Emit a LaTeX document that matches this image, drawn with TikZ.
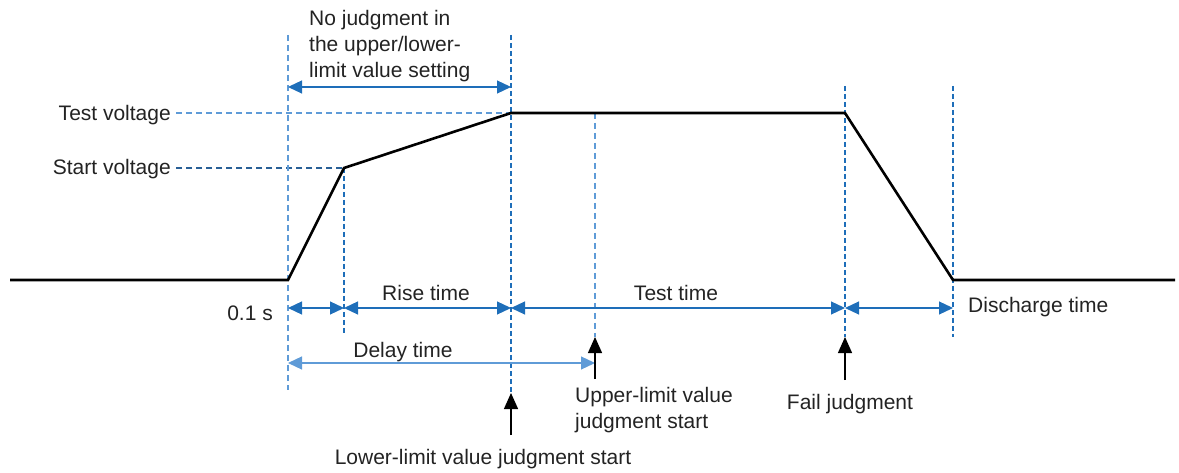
\documentclass[tikz,border=0pt]{standalone}
\usepackage{fontspec}
\setmainfont{Liberation Sans}
\usetikzlibrary{arrows.meta}
\definecolor{arrblue}{RGB}{30,110,185}
\definecolor{lightblue}{RGB}{95,155,215}
\definecolor{darkdash}{RGB}{40,95,150}
\definecolor{txt}{RGB}{35,35,35}
\tikzset{
  wave/.style={line width=2.6pt, black, line join=miter},
  dimarrow/.style={arrblue, line width=1.2pt, {Triangle[length=14pt,width=13pt]}-{Triangle[length=14pt,width=13pt]}},
  guide/.style={lightblue, line width=1.3pt, dash pattern=on 6pt off 4pt},
  guidedark/.style={arrblue, line width=1.2pt, dash pattern=on 5pt off 3pt},
  guidegray/.style={darkdash, line width=1.1pt, dash pattern=on 6pt off 4pt},
  uparrow/.style={black, line width=1.3pt, -{Triangle[length=16pt,width=14pt]}},
  lbl/.style={text=txt, font=\fontsize{21}{26}\selectfont, inner sep=0pt},
}
\begin{document}
\begin{tikzpicture}[x=1pt,y=-1pt]
\useasboundingbox (0,0) rectangle (1179,473);
% waveform points
\coordinate (w0) at (10,280);
\coordinate (w1) at (288,280);
\coordinate (w2) at (344,168);
\coordinate (w3) at (511,113);
\coordinate (w4) at (845,113);
\coordinate (w5) at (953,280);
\coordinate (w6) at (1175,280);
% labels left
\node[lbl, anchor=east] (tv) at (171,115) {Test voltage};
\node[lbl, anchor=east] (sv) at (171,169) {Start voltage};
% horizontal guides
\path (tv.east |- w3) ++(5,0) coordinate (tvs);
\path (sv.east |- w2) ++(5,0) coordinate (svs);
\draw[guide] (tvs) -- (w3);
\draw[guidegray] (svs) -- (w2);
% vertical guide coordinates
\coordinate (a0) at (288,35);  \coordinate (a1) at (288,390);
\coordinate (b0) at (344,168); \coordinate (b1) at (344,335);
\coordinate (c0) at (511,35);  \coordinate (c1) at (511,393);
\coordinate (d0) at (595,113); \coordinate (d1) at (595,337);
\coordinate (e0) at (845,86);  \coordinate (e1) at (845,337);
\coordinate (f0) at (953,86);  \coordinate (f1) at (953,337);
\draw[guide] (a0) -- (a1);
\draw[guidedark] (b0) -- (b1);
\draw[guidedark] (c0) -- (c1);
\draw[guide] (d0) -- (d1);
\draw[guidedark] (e0) -- (e1);
\draw[guidedark] (f0) -- (f1);
% waveform
\draw[wave] (w0) -- (w1) -- (w2) -- (w3) -- (w4) -- (w5) -- (w6);
% dimension arrows
\coordinate (r1a) at (288,308); \coordinate (r1b) at (344,308);
\coordinate (r1c) at (511,308); \coordinate (r1d) at (845,308);
\coordinate (r1e) at (953,308);
\draw[dimarrow] (r1a) -- (r1b);
\draw[dimarrow] (r1b) -- (r1c);
\draw[dimarrow] (r1c) -- (r1d);
\draw[dimarrow] (r1d) -- (r1e);
\coordinate (dla) at (288,363); \coordinate (dlb) at (595,363);
\draw[dimarrow, lightblue] (dla) -- (dlb);
\coordinate (ta) at (288,87); \coordinate (tb) at (511,87);
\draw[dimarrow] (ta) -- (tb);
% up arrows
\coordinate (u1t) at (511,435);
\draw[uparrow] (u1t) -- (c1);
\coordinate (u2t) at (595,379);
\draw[uparrow] (u2t) -- (d1);
\coordinate (u3t) at (845,380);
\draw[uparrow] (u3t) -- (e1);
% texts
\node[lbl, anchor=west, align=left] (nj) at (309,46) {No judgment in\\the upper/lower-\\limit value setting};
\node[lbl, anchor=east] (t01) at (273,313) {0.1 s};
\node[lbl] (rt) at (426,293) {Rise time};
\node[lbl] (tt) at (676,293) {Test time};
\node[lbl, anchor=west] (dt) at (968,307) {Discharge time};
\node[lbl] (dly) at (403,352) {Delay time};
\node[lbl, anchor=west, align=left] (ul) at (575,410) {Upper-limit value\\judgment start};
\node[lbl] (fj) at (850,404) {Fail judgment};
\node[lbl] (ll) at (483,459) {Lower-limit value judgment start};
\end{tikzpicture}
\end{document}
